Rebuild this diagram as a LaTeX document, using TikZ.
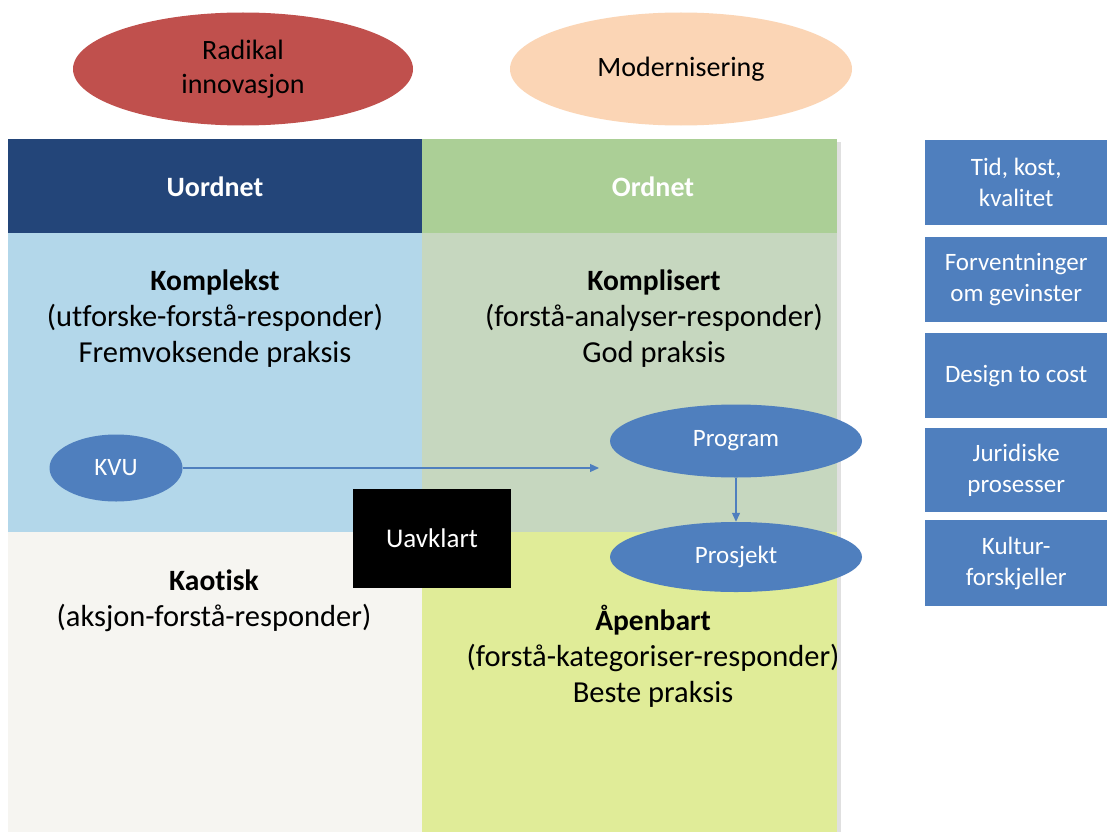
\documentclass[tikz,border=0pt]{standalone}
\usepackage{fontspec}
\setmainfont{Carlito}[Ligatures=CommonOff]
\usetikzlibrary{shapes.geometric,arrows.meta}
\definecolor{cred}{HTML}{C0504D}
\definecolor{cpeach}{HTML}{FBD5B5}
\definecolor{cdark}{HTML}{234579}
\definecolor{cgreenh}{HTML}{ABCF96}
\definecolor{clblue}{HTML}{B3D7EA}
\definecolor{cgrey}{HTML}{C6D7BF}
\definecolor{cchaos}{HTML}{F6F5F1}
\definecolor{cobv}{HTML}{E0EC98}
\definecolor{cblue}{HTML}{4F7FBE}
\newcommand{\qbold}[1]{{\fontsize{29.5}{36}\selectfont\bfseries #1}}
\tikzset{
  bigell/.style={ellipse, inner sep=0pt, minimum width=340pt, minimum height=113pt, align=center, font=\fontsize{28}{34}\selectfont},
  blueell/.style={ellipse, fill=cblue, inner sep=0pt, text=white, font=\fontsize{25}{28}\selectfont},
  quad/.style={rectangle, inner sep=0pt, anchor=north west},
  qtext/.style={align=center, font=\fontsize{30.5}{36}\selectfont},
  sidebox/.style={rectangle, fill=cblue, inner sep=0pt, anchor=north west, minimum width=182pt, text=white, align=center, font=\fontsize{25}{31}\selectfont},
  conn/.style={draw=cblue, line width=1.2pt, -{Triangle[length=9pt,width=8pt]}}
}
\begin{document}
\begin{tikzpicture}[x=1pt,y=-1pt]
\useasboundingbox (0,0) rectangle (1107,832);
\fill[white] (0,0) rectangle (1107,832);
% ellipses on top
\node[bigell, fill=cred] (radikal) at (243,69) {Radikal\\innovasjon};
\node[bigell, fill=cpeach, minimum width=342pt] (modern) at (681,69) {Modernisering};
% shadow
\fill[black!12] (837,142) rectangle (841,832);
% headers
\node[quad, fill=cdark, minimum width=414pt, minimum height=94pt] (uordnet) at (8,139) {};
\node[quad, fill=cgreenh, minimum width=415pt, minimum height=94pt] (ordnet) at (422,139) {};
\node[text=white, font=\fontsize{28}{30}\selectfont\bfseries] (tuordnet) at (215,187) {Uordnet};
\node[text=white, font=\fontsize{28}{30}\selectfont\bfseries] (tordnet) at (653,187) {Ordnet};
% quadrants
\node[quad, fill=clblue, minimum width=414pt, minimum height=299pt] (kompleks) at (8,233) {};
\node[quad, fill=cgrey, minimum width=415pt, minimum height=299pt] (komplis) at (422,233) {};
\node[quad, fill=cchaos, minimum width=414pt, minimum height=300pt] (kaos) at (8,532) {};
\node[quad, fill=cobv, minimum width=415pt, minimum height=300pt] (obv) at (422,532) {};
% quadrant texts
\node[qtext] (tkompleks) at (215,319) {\qbold{Komplekst}\\(utforske-forstå-responder)\\Fremvoksende praksis};
\node[qtext] (tkomplis) at (654,319) {\qbold{Komplisert}\\(forstå-analyser-responder)\\God praksis};
\node[qtext] (tkaos) at (214,601) {\qbold{Kaotisk}\\(aksjon-forstå-responder)};
\node[qtext] (tobv) at (653,656) {\qbold{Åpenbart}\\(forstå-kategoriser-responder)\\Beste praksis};
% uavklart
\node[rectangle, fill=black, text=white, minimum width=158pt, minimum height=99pt, inner sep=0pt, font=\fontsize{27}{30}\selectfont] (uavklart) at (432,538.5) {Uavklart};
% small ellipses
\node[blueell, minimum width=133pt, minimum height=67pt] (kvu) at (116,468) {KVU};
\node[blueell, minimum width=252pt, minimum height=73pt] (program) at (736,441) {Program};
\node[blueell, minimum width=252pt, minimum height=70pt] (prosjekt) at (736,557) {Prosjekt};
\coordinate (kvuend) at (599,468);
\draw[conn] (kvu.east) -- (kvuend);
\draw[conn] (program.south) -- (prosjekt.north);
% side boxes
\node[sidebox, minimum height=85pt] (s1) at (925,140) {Tid, kost,\\kvalitet};
\node[sidebox, minimum height=85pt] (s2) at (925,237) {Forventninger\\om gevinster};
\node[sidebox, minimum height=85pt] (s3) at (925,333) {Design to cost};
\node[sidebox, minimum height=84pt] (s4) at (925,428) {Juridiske\\prosesser};
\node[sidebox, minimum height=86pt] (s5) at (925,520) {Kultur-\\forskjeller};
\end{tikzpicture}
\end{document}
